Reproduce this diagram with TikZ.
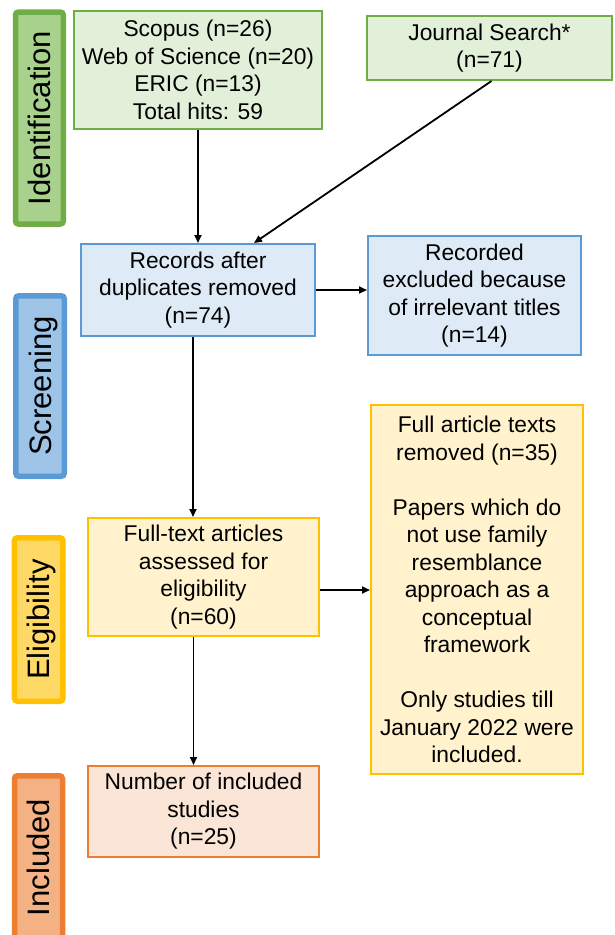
\documentclass[tikz,border=0pt]{standalone}
\usepackage{fontspec}
\setmainfont{Liberation Sans}
\usetikzlibrary{arrows.meta}
\definecolor{gB}{HTML}{70AD47}\definecolor{gF}{HTML}{A9D18E}\definecolor{gL}{HTML}{E2F0D9}
\definecolor{bB}{HTML}{5B9BD5}\definecolor{bF}{HTML}{9DC3E6}\definecolor{bL}{HTML}{DEEBF7}
\definecolor{yB}{HTML}{FFC000}\definecolor{yF}{HTML}{FFD966}\definecolor{yL}{HTML}{FFF2CC}
\definecolor{oB}{HTML}{ED7D31}\definecolor{oF}{HTML}{F4B183}\definecolor{oL}{HTML}{FBE5D6}
\tikzset{
  box/.style={draw, line width=2pt, align=center, inner sep=0pt,
    font=\fontsize{22.8}{27.5}\selectfont},
  bar/.style={draw, line width=5.5pt, rounded corners=3pt, rotate=90, inner sep=0pt,
    text height=22pt, text depth=0pt, font=\fontsize{31}{36}\selectfont},
  arr/.style={line width=1.8pt, -{Triangle[length=8pt,width=7pt]}}
}
\begin{document}
\begin{tikzpicture}[x=1pt,y=-1pt]
\useasboundingbox (0,0) rectangle (614,935);
\clip (0,0) rectangle (614,935);
% phase bars
\node[bar, draw=gB, fill=gF, minimum width=212pt, minimum height=47.8pt] (idbar) at (39.4,118) {Identification};
\node[bar, draw=bB, fill=bF, minimum width=180.5pt, minimum height=48.5pt] (scbar) at (40,386) {Screening};
\node[bar, draw=yB, fill=yF, minimum width=163.5pt, minimum height=48.5pt] (elbar) at (38.7,619.5) {Eligibility};
\node[bar, draw=oB, fill=oF, minimum width=163.5pt, minimum height=48pt] (inbar) at (38.5,857.5) {Included};
% boxes
\node[box, draw=gB, fill=gL, minimum width=248pt, minimum height=118pt] (src) at (198,70)
  {Scopus (n=26)\\Web of Science (n=20)\\ERIC (n=13)\\Total hits: 59};
\node[box, draw=gB, fill=gL, minimum width=245pt, minimum height=64pt] (journal) at (489.5,48)
  {Journal Search*\\(n=71)};
\node[box, draw=bB, fill=bL, minimum width=234pt, minimum height=92pt] (records) at (198,290)
  {Records after\\duplicates removed\\(n=74)};
\node[box, draw=bB, fill=bL, minimum width=213pt, minimum height=119pt] (excl) at (474.5,295.5)
  {Recorded\\excluded because\\of irrelevant titles\\(n=14)};
\node[box, draw=yB, fill=yL, minimum width=231pt, minimum height=118pt] (fulltext) at (203.5,577)
  {Full-text articles\\assessed for\\eligibility\\(n=60)};
\node[box, draw=yB, fill=yL, minimum width=212pt, minimum height=369pt] (fullart) at (477,589.5)
  {Full article texts\\removed (n=35)\\[27.5pt]Papers which do\\not use family\\resemblance\\approach as a\\conceptual\\framework\\[27.5pt]Only studies till\\January 2022 were\\included.};
\node[box, draw=oB, fill=oL, minimum width=231pt, minimum height=91pt] (incl) at (203.5,811.5)
  {Number of included\\studies\\(n=25)};
% connectors
\draw[arr] (src.south) -- (records.north);
\draw[arr] ([xshift=2pt]journal.south) -- ([xshift=56pt]records.north);
\draw[arr] (records.east) -- (records.east -| excl.west);
\draw[arr] ([xshift=-5pt]records.south) -- ([xshift=-5pt]records.south |- fulltext.north);
\draw[arr] ([yshift=-13pt]fulltext.east) -- ([yshift=-13pt]fulltext.east -| fullart.west);
\draw[arr] ([xshift=-10pt]fulltext.south) -- ([xshift=-10pt]fulltext.south |- incl.north);
\end{tikzpicture}
\end{document}
